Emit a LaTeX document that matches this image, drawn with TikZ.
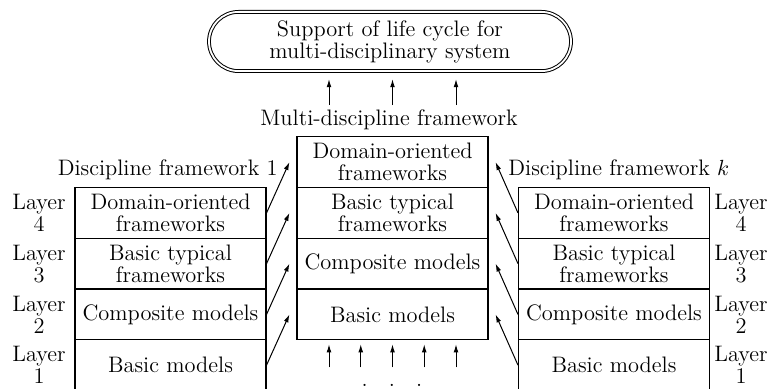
\documentclass[tikz,border=0pt]{standalone}
\usepackage{fontspec}
\usetikzlibrary{arrows.meta,shapes.misc,calc}
\begin{document}
\begin{tikzpicture}[x=0.5pt,y=-0.5pt,
  txt/.style={font=\fontsize{11.2}{11}\selectfont,inner sep=0pt,align=center},
  cell/.style={txt,draw,line width=0.55pt,minimum width=95.5pt,minimum height=25.375pt},
  arr/.style={line width=0.5pt,-{Latex[length=4pt,width=2.4pt]}},
  layerlbl/.style={txt}]
\useasboundingbox (0,0) rectangle (771,389);

% top goal
\node[txt,draw,rounded rectangle,double,line width=0.5pt,double distance=0.9pt,
      minimum width=181pt,minimum height=29.6pt] (cap) at (390,41.5)
  {Support of life cycle for\\multi-disciplinary system};

% multi-discipline framework (centre stack)
\node[txt,anchor=base] (mdf) at (389,126) {Multi-discipline framework};
\node[cell] (C1) at (392.5,162.1) {Domain-oriented\\frameworks};
\node[cell] (C2) at (392.5,212.9) {Basic typical\\frameworks};
\node[cell] (C3) at (392.5,263.6) {Composite models};
\node[cell] (C4) at (392.5,314.4) {Basic models};

% discipline framework 1 (left stack)
\node[txt,anchor=base east] (df1) at (278,176) {Discipline framework 1};
\node[cell] (L4) at (170.5,212.9) {Domain-oriented\\frameworks};
\node[cell] (L3) at (170.5,263.6) {Basic typical\\frameworks};
\node[cell] (L2) at (170.5,314.4) {Composite models};
\node[cell] (L1) at (170.5,365.1) {Basic models};

% discipline framework k (right stack)
\node[txt,anchor=base west] (dfk) at (508,176) {Discipline framework $k$};
\node[cell] (R4) at (614,212.9) {Domain-oriented\\frameworks};
\node[cell] (R3) at (614,263.6) {Basic typical\\frameworks};
\node[cell] (R2) at (614,314.4) {Composite models};
\node[cell] (R1) at (614,365.1) {Basic models};

% layer labels
\foreach \n/\y in {4/212.9,3/263.6,2/314.4,1/365.1}{
  \node[layerlbl] (ll\n) at (39,\y) {Layer\\\n};
  \node[layerlbl] (rl\n) at (741,\y) {Layer\\\n};
}

% arrows from the discipline stacks into the centre stack
\foreach \a/\b in {4/1,3/2,2/3,1/4}{
  \draw[arr] (L\a.east) -- ([xshift=-3.5pt]C\b.west);
  \draw[arr] (R\a.west) -- ([xshift=3.5pt]C\b.east);
}

% arrows up to the goal
\foreach \dx in {-63.5,0,63.5}
  \draw[arr] ($(C1.north)+(\dx,-31)$) -- ($(C1.north)+(\dx,-57)$);

% arrows from further frameworks below
\foreach \dx in {-63.5,-31.75,0,31.75,63.5}
  \draw[arr] ($(C4.south)+(\dx,27)$) -- ($(C4.south)+(\dx,4)$);

\node[txt,anchor=base] (dots) at (392,386.5) {.\hspace{10.6pt}.\hspace{10.6pt}.};
\end{tikzpicture}
\end{document}
